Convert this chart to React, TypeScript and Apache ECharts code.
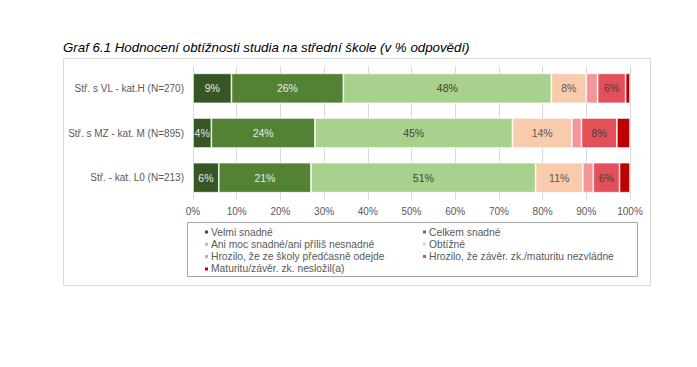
import React, { useEffect, useRef } from "react";
import * as echarts from "echarts";

const categories = [
  "Stř. - kat. L0 (N=213)",
  "Stř. s MZ - kat. M (N=895)",
  "Stř. s VL - kat.H (N=270)",
];

const seriesNames = [
  "Velmi snadné",
  "Celkem snadné",
  "Ani moc snadné/ani příliš nesnadné",
  "Obtížné",
  "Hrozilo, že ze školy předčasně odejde",
  "Hrozilo, že závěr. zk./maturitu nezvládne",
  "Maturitu/závěr. zk. nesložil(a)",
];

// values in order of categories (bottom to top)
const velmiSnadne = [5.9, 4.2, 8.8];
const celkemSnadne = [21.1, 23.7, 25.6];
const aniMoc = [51.4, 45.2, 47.6];
const obtizne = [10.8, 13.6, 8.0];
const hroziloOdejde = [2.4, 2.2, 2.6];
const hroziloNezvladne = [6.0, 8.1, 6.4];
const neslozil = [2.4, 3.0, 1.0];

const seriesValues = [
  velmiSnadne,
  celkemSnadne,
  aniMoc,
  obtizne,
  hroziloOdejde,
  hroziloNezvladne,
  neslozil,
];

const colors = ["#375623", "#548235", "#a9d18e", "#f8cbad", "#f4959a", "#e4505a", "#c00000"];
const labelColors = ["#e8e8e8", "#e8e8e8", "#404040", "#595959", "#404040", "#404040", "#404040"];

const xTicks = [0, 10, 20, 30, 40, 50, 60, 70, 80, 90, 100];

const FONT = "Liberation Sans, Arial, sans-serif";

export default function App() {
  const ref = useRef<HTMLDivElement>(null);
  useEffect(() => {
    if (!ref.current) return;
    const chart = echarts.init(ref.current, undefined, { renderer: "svg" });
    const legendText = { color: "#595959", fontSize: 10.3, fontFamily: FONT, lineHeight: 11, padding: [0, 0, 0, -3] };
    const option: any = {
      animation: false,
      backgroundColor: "#ffffff",
      textStyle: { fontFamily: FONT },
      grid: { left: 193, right: 67, top: 66, bottom: 167, containLabel: false },
      xAxis: {
        type: "value",
        min: 0,
        max: 100,
        interval: 10,
        axisLine: { show: false },
        axisTick: { show: false },
        splitLine: { show: true, lineStyle: { color: "#d9d9d9", width: 1 } },
        axisLabel: {
          formatter: (v: number) => (xTicks.includes(v) ? v + "%" : ""),
          color: "#595959",
          fontSize: 10,
          fontFamily: FONT,
          margin: 6,
        },
      },
      yAxis: {
        type: "category",
        data: categories,
        axisLine: { show: false },
        axisTick: { show: false },
        axisLabel: { color: "#595959", fontSize: 10, fontFamily: FONT, margin: 9 },
      },
      legend: [
        {
          data: [seriesNames[0], seriesNames[2], seriesNames[4], seriesNames[6]],
          orient: "vertical",
          left: 203,
          top: 226.5,
          padding: 0,
          itemWidth: 5,
          itemHeight: 5,
          itemGap: 1.3,
          icon: "rect",
          textStyle: legendText,
        },
        {
          data: [seriesNames[1], seriesNames[3], seriesNames[5]],
          orient: "vertical",
          left: 421,
          top: 226.5,
          padding: 0,
          itemWidth: 5,
          itemHeight: 5,
          itemGap: 1.3,
          icon: "rect",
          textStyle: legendText,
        },
      ],
      graphic: [
        {
          type: "rect",
          shape: { x: 63.5, y: 58.5, width: 587, height: 227 },
          style: { fill: "none", stroke: "#d9d9d9", lineWidth: 1 },
          silent: true,
          z: -10,
        },
        {
          type: "rect",
          shape: { x: 187.5, y: 222.5, width: 450, height: 54 },
          style: { fill: "none", stroke: "#a6a6a6", lineWidth: 1 },
          silent: true,
        },
        {
          type: "text",
          x: 63,
          y: 41,
          style: {
            text: "Graf 6.1 Hodnocení obtížnosti studia na střední škole (v % odpovědí)",
            font: "italic 13.3px " + FONT,
            fill: "#000000",
          },
        },
      ],
      series: seriesNames.map((name, i) => ({
        name,
        type: "bar",
        stack: "total",
        barWidth: 30,
        data: seriesValues[i],
        itemStyle: { color: colors[i], borderColor: "#ffffff", borderWidth: 0.7 },
        label: {
          show: true,
          position: "inside",
          color: labelColors[i],
          fontSize: 10.5,
          fontFamily: FONT,
          formatter: (p: any) => (p.value >= 4 ? Math.round(p.value) + "%" : ""),
        },
      })),
    };
    chart.setOption(option);
    return () => chart.dispose();
  }, []);
  return (
    <div
      ref={ref}
      style={{ position: "fixed", left: 0, top: 0, width: 697, height: 367, background: "#fff" }}
    />
  );
}
